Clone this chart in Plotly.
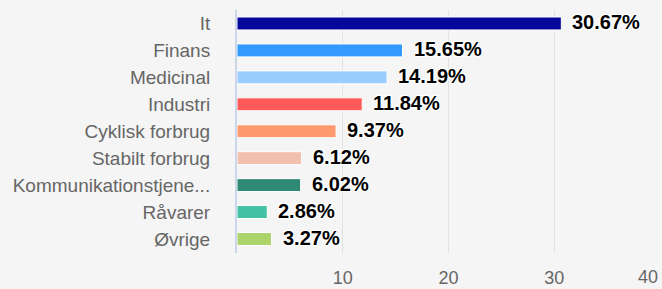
import plotly.graph_objects as go

categories = ["It", "Finans", "Medicinal", "Industri", "Cyklisk forbrug",
              "Stabilt forbrug", "Kommunikationstjene...", "Råvarer", "Øvrige"]
values = [30.67, 15.65, 14.19, 11.84, 9.37, 6.12, 6.02, 2.86, 3.27]
labels = ["30.67%", "15.65%", "14.19%", "11.84%", "9.37%", "6.12%", "6.02%", "2.86%", "3.27%"]
colors = ["#07079b", "#3399ff", "#99ccff", "#ff5a5a", "#ff9970",
          "#f2c1ae", "#2e8a74", "#43c1a5", "#acd46a"]
x_ticks = [10, 20, 30, 40]
x_tick_labels = ["10", "20", "30", "40"]

FONT = "Liberation Sans, Arial, Helvetica"
SHADOW = ("1px 1px 1px white, -1px -1px 1px white, 1px -1px 1px white, -1px 1px 1px white, "
          "0px 1px 1px white, 0px -1px 1px white, 1px 0px 1px white, -1px 0px 1px white")

fig = go.Figure(go.Bar(
    x=values, y=categories, orientation="h",
    marker=dict(color=colors, line=dict(color="white", width=1)),
    width=0.48, hoverinfo="x+y",
))

for v, c, t in zip(values, categories, labels):
    fig.add_annotation(x=v, y=c, text=t, showarrow=False, xanchor="left", yanchor="middle",
                       xshift=9, yshift=1,
                       font=dict(family=FONT, size=20, color="black", weight="bold", shadow=SHADOW))

# last tick label is justified inward so it stays inside the chart
fig.add_annotation(x=x_ticks[-1], y=0, xref="x", yref="paper", text=x_tick_labels[-1],
                   showarrow=False, xanchor="right", yanchor="top", yshift=-12, xshift=0,
                   font=dict(family=FONT, size=18, color="#666666"))

fig.update_layout(
    width=662, height=289,
    margin=dict(l=237, r=2, t=10, b=36),
    paper_bgcolor="#f5f5f5", plot_bgcolor="#f5f5f5",
    showlegend=False,
    font=dict(family=FONT, size=19, color="#666666"),
)
fig.update_xaxes(range=[0, 40], tickvals=x_ticks, ticktext=x_tick_labels[:-1] + [""],
                 showgrid=True, gridcolor="#e2e2e2", gridwidth=1, zeroline=False,
                 showline=False, ticks="", automargin=False, ticklabelstandoff=12,
                 tickfont=dict(size=18, color="#666666"))
fig.update_yaxes(autorange="reversed", showline=True, linecolor="#ccd6eb", linewidth=2,
                 showgrid=False, ticks="", ticklabelstandoff=21, automargin=False,
                 tickfont=dict(size=19, color="#666666"))

fig.write_html("out.html", config={"displayModeBar": False},
               post_script="document.body.style.margin='0';document.body.style.background='#f5f5f5';")
